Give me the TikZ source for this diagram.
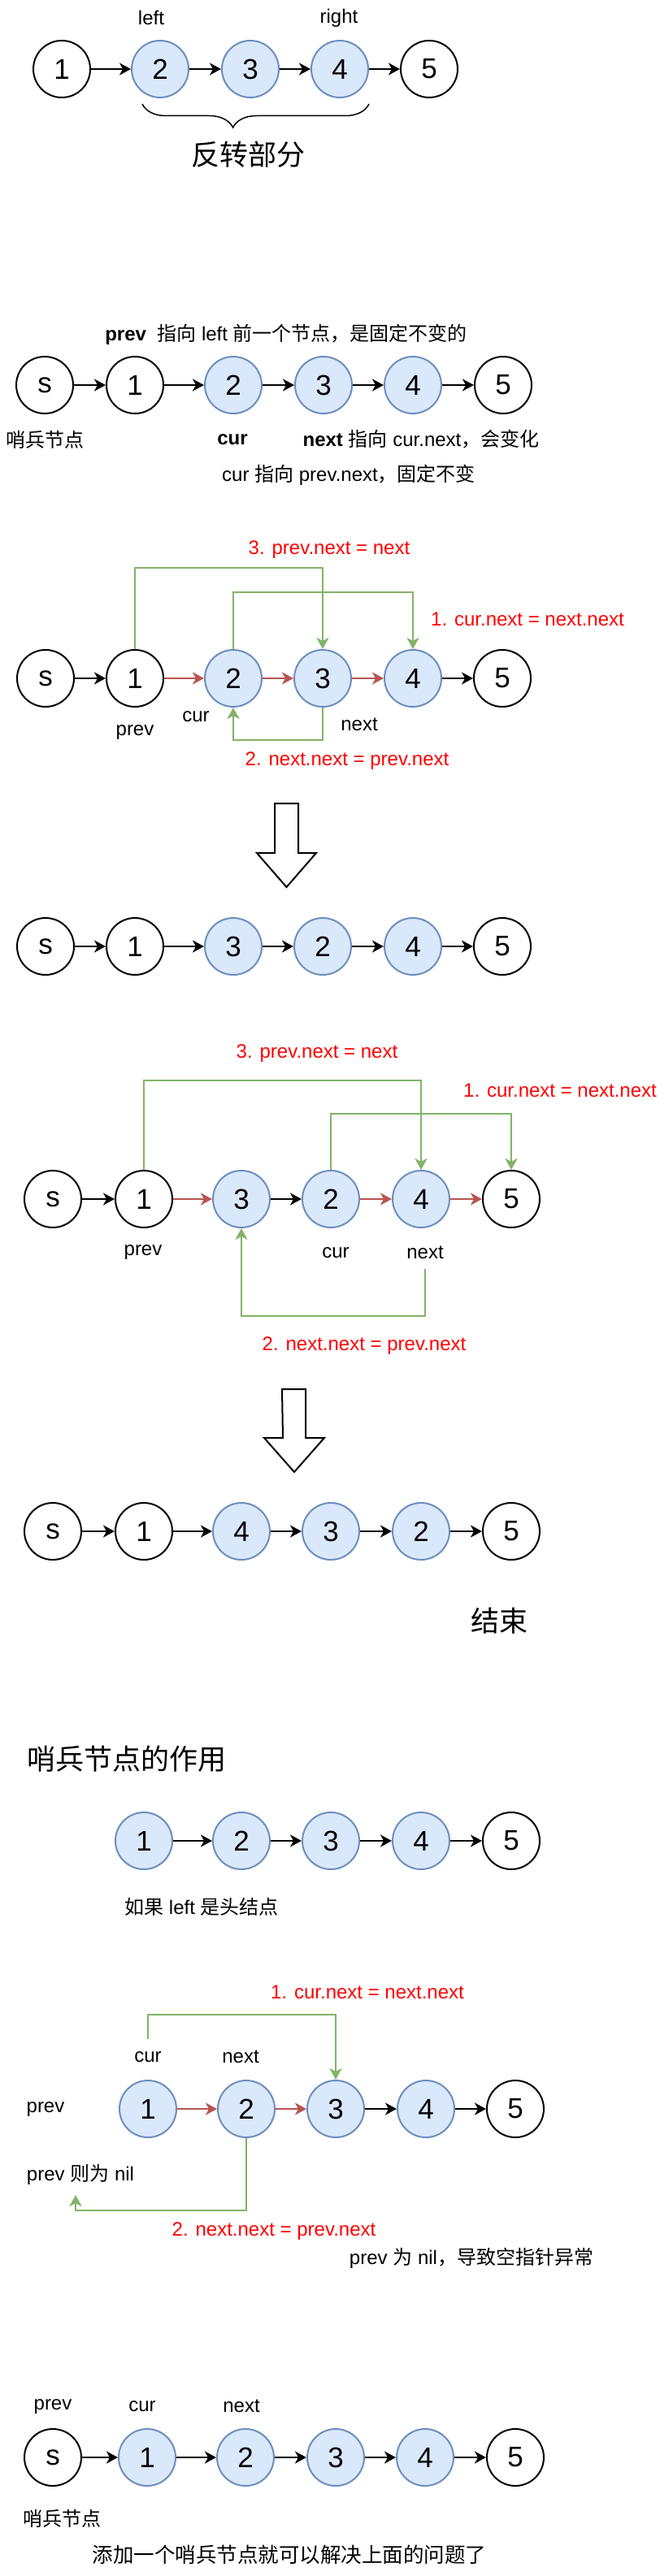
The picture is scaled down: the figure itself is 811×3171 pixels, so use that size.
\documentclass[tikz,border=0pt]{standalone}
\usepackage{fontspec}
\setmainfont{Liberation Sans}
\newfontfamily\cjk{Noto Sans CJK SC}
\usetikzlibrary{arrows.meta,decorations.pathreplacing}
\definecolor{bluefill}{HTML}{DAE8FC}
\definecolor{blueline}{HTML}{6C8EBF}
\definecolor{redline}{HTML}{B85450}
\definecolor{greenline}{HTML}{82B366}
\definecolor{redtext}{HTML}{FF0000}

\begin{document}
\begin{tikzpicture}[x=1pt,y=-1pt,
   wnode/.style={circle,draw,line width=2pt,minimum size=70pt,inner sep=0pt,font=\fontsize{35}{40}\selectfont},
   bnode/.style={wnode,draw=blueline,fill=bluefill},
   lnk/.style={-{Stealth[length=14pt,width=15pt,inset=4pt]},line width=2pt},
   rlnk/.style={lnk,draw=redline},
   glnk/.style={-{Stealth[length=14pt,width=15pt,inset=4pt]},line width=2.5pt,draw=greenline},
   lbl/.style={font=\fontsize{24}{28}\selectfont},
   rlbl/.style={lbl,text=redtext},
   big/.style={font=\fontsize{35}{42}\selectfont},
   blockarrow/.style={draw,line width=2pt,fill=white}]
   \useasboundingbox (0,0) rectangle (811,3171);

   % the part to reverse
   \node[wnode] (a1) at (76,85) {1};
   \node[bnode] (a2) at (197,85) {2};
   \node[bnode] (a3) at (308,85) {3};
   \node[bnode] (a4) at (418,85) {4};
   \node[wnode] (a5) at (528,85) {5};
   \node[lbl] (aleft) at (186,22) {left};
   \node[lbl] (aright) at (417,22) {right};
   \node[big] (apart) at (305,190) {\cjk 反转部分};

   \path (a1) edge[lnk] (a2);
   \path (a2) edge[lnk] (a3);
   \path (a3) edge[lnk] (a4);
   \path (a4) edge[lnk] (a5);
   \draw[decorate,decoration={brace,mirror,amplitude=29pt,aspect=0.4},line width=1.5pt] (175,128) -- (454,128);

   % pointers
   \node[wnode] (bs) at (55,474) {s};
   \node[wnode] (b1) at (166,474) {1};
   \node[bnode] (b2) at (287,474) {2};
   \node[bnode] (b3) at (398,474) {3};
   \node[bnode] (b4) at (508,474) {4};
   \node[wnode] (b5) at (619,474) {5};
   \node[lbl] (bprev) at (352,412) {\textbf{prev}\ \ {\cjk 指向} left {\cjk 前一个节点，是固定不变的}};
   \node[lbl] (bsent) at (55,541) {\cjk 哨兵节点};
   \node[lbl] (bcur) at (286,541) {\textbf{cur}};
   \node[lbl] (bnext) at (518,541) {\textbf{next} {\cjk 指向} cur.next{\cjk ，会变化}};
   \node[lbl] (bnote) at (429,585) {cur {\cjk 指向} prev.next{\cjk ，固定不变}};

   \path (bs) edge[lnk] (b1);
   \path (b1) edge[lnk] (b2);
   \path (b2) edge[lnk] (b3);
   \path (b3) edge[lnk] (b4);
   \path (b4) edge[lnk] (b5);

   % first step
   \node[wnode] (cs) at (56,835) {s};
   \node[wnode] (c1) at (166,835) {1};
   \node[bnode] (c2) at (287,835) {2};
   \node[bnode] (c3) at (397,835) {3};
   \node[bnode] (c4) at (508,835) {4};
   \node[wnode] (c5) at (618,835) {5};
   \node[rlbl] (cstep3) at (405,677) {3. prev.next = next};
   \node[rlbl] (cstep1) at (649,762) {1. cur.next = next.next};
   \node[rlbl] (cstep2) at (427,937) {2. next.next = prev.next};
   \node[lbl] (cprev) at (166,902) {prev};
   \node[lbl] (ccur) at (241,882) {cur};
   \node[lbl] (cnext) at (442,892) {next};

   \path (cs) edge[lnk] (c1);
   \path (c1) edge[rlnk] (c2);
   \path (c2) edge[rlnk] (c3);
   \path (c3) edge[rlnk] (c4);
   \path (c4) edge[lnk] (c5);
   \draw[glnk] (c1.north) -- ++(0,-100) -| (c3.north);
   \draw[glnk] (c2.north) -- ++(0,-70) -| (c4.north);
   \draw[glnk] (c3.south) -- ++(0,40) -| (c2.south);

   \draw[blockarrow] (338,989) -- ++(29,0) -- ++(0,61) -- ++(22,0) -- ++(-36.5,42) -- ++(-36.5,-42) -- ++(22,0) -- cycle;

   \node[wnode] (ds) at (56,1165) {s};
   \node[wnode] (d1) at (166,1165) {1};
   \node[bnode] (d3) at (287,1165) {3};
   \node[bnode] (d2) at (397,1165) {2};
   \node[bnode] (d4) at (508,1165) {4};
   \node[wnode] (d5) at (618,1165) {5};

   \path (ds) edge[lnk] (d1);
   \path (d1) edge[lnk] (d3);
   \path (d3) edge[lnk] (d2);
   \path (d2) edge[lnk] (d4);
   \path (d4) edge[lnk] (d5);

   % second step
   \node[wnode] (es) at (65,1476) {s};
   \node[wnode] (e1) at (177,1476) {1};
   \node[bnode] (e3) at (297,1476) {3};
   \node[bnode] (e2) at (407,1476) {2};
   \node[bnode] (e4) at (518,1476) {4};
   \node[wnode] (e5) at (629,1476) {5};
   \node[rlbl] (estep3) at (390,1297) {3. prev.next = next};
   \node[rlbl] (estep1) at (689,1342) {1. cur.next = next.next};
   \node[rlbl] (estep2) at (448,1657) {2. next.next = prev.next};
   \node[lbl] (eprev) at (176,1542) {prev};
   \node[lbl] (ecur) at (413,1542) {cur};
   \node[lbl] (enext) at (523,1542) {next};
   \coordinate (efrom) at (523,1562);

   \path (es) edge[lnk] (e1);
   \path (e1) edge[rlnk] (e3);
   \path (e3) edge[lnk] (e2);
   \path (e2) edge[rlnk] (e4);
   \path (e4) edge[rlnk] (e5);
   \draw[glnk] (e1.north) -- ++(0,-110) -| (e4.north);
   \draw[glnk] (e2.north) -- ++(0,-69) -| (e5.north);
   \draw[glnk] (efrom) -- ++(0,58) -| (e3.south);

   \draw[blockarrow] (347,1710) -- ++(29,0) -- ++(0,60) -- ++(23,0) -- ++(-37,42) -- ++(-37,-42) -- ++(23,0) -- cycle;

   \node[wnode] (fs) at (65,1885) {s};
   \node[wnode] (f1) at (177,1885) {1};
   \node[bnode] (f4) at (297,1885) {4};
   \node[bnode] (f3) at (407,1885) {3};
   \node[bnode] (f2) at (518,1885) {2};
   \node[wnode] (f5) at (629,1885) {5};
   \node[big] (fend) at (614,1995) {\cjk 结束};

   \path (fs) edge[lnk] (f1);
   \path (f1) edge[lnk] (f4);
   \path (f4) edge[lnk] (f3);
   \path (f3) edge[lnk] (f2);
   \path (f2) edge[lnk] (f5);

   % why the sentinel
   \node[big] (gtitle) at (156,2165) {\cjk 哨兵节点的作用};
   \node[bnode] (g1) at (177,2266) {1};
   \node[bnode] (g2) at (297,2266) {2};
   \node[bnode] (g3) at (407,2266) {3};
   \node[bnode] (g4) at (518,2266) {4};
   \node[wnode] (g5) at (629,2266) {5};
   \node[lbl] (ghead) at (248,2347) {{\cjk 如果} left {\cjk 是头结点}};

   \path (g1) edge[lnk] (g2);
   \path (g2) edge[lnk] (g3);
   \path (g3) edge[lnk] (g4);
   \path (g4) edge[lnk] (g5);

   \node[bnode] (h1) at (182,2596) {1};
   \node[bnode] (h2) at (303,2596) {2};
   \node[bnode] (h3) at (413,2596) {3};
   \node[bnode] (h4) at (524,2596) {4};
   \node[wnode] (h5) at (634,2596) {5};
   \node[rlbl] (hstep1) at (452,2452) {1. cur.next = next.next};
   \node[rlbl] (hstep2) at (337,2747) {2. next.next = prev.next};
   \node[lbl] (hcur) at (182,2532) {cur};
   \node[lbl] (hnext) at (296,2532) {next};
   \node[lbl] (hprev) at (56,2597) {prev};
   \node[lbl] (hnil) at (99,2677) {prev {\cjk 则为} nil};
   \node[lbl] (herr) at (580,2780) {prev {\cjk 为} nil{\cjk ，导致空指针异常}};
   \coordinate (hfrom) at (182,2510);
   \coordinate (hto) at (93,2702);

   \path (h1) edge[rlnk] (h2);
   \path (h2) edge[rlnk] (h3);
   \path (h3) edge[lnk] (h4);
   \path (h4) edge[lnk] (h5);
   \draw[glnk] (hfrom) -- ++(0,-30) -| (h3.north);
   \draw[glnk] (h2.south) -- ++(0,89) -| (hto);

   \node[wnode] (ks) at (65,3025) {s};
   \node[bnode] (k1) at (181,3025) {1};
   \node[bnode] (k2) at (302,3025) {2};
   \node[bnode] (k3) at (413,3025) {3};
   \node[bnode] (k4) at (523,3025) {4};
   \node[wnode] (k5) at (634,3025) {5};
   \node[lbl] (kprev) at (65,2962) {prev};
   \node[lbl] (kcur) at (175,2962) {cur};
   \node[lbl] (knext) at (297,2962) {next};
   \node[lbl] (ksent) at (76,3100) {\cjk 哨兵节点};
   \node[lbl,font=\fontsize{25.5}{30}\selectfont] (ksolve) at (356,3145) {\cjk 添加一个哨兵节点就可以解决上面的问题了};

   \path (ks) edge[lnk] (k1);
   \path (k1) edge[lnk] (k2);
   \path (k2) edge[lnk] (k3);
   \path (k3) edge[lnk] (k4);
   \path (k4) edge[lnk] (k5);
\end{tikzpicture}
\end{document}
